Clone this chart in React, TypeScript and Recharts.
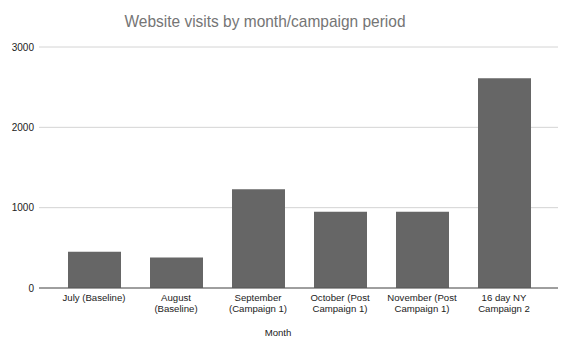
import React from "react";
import { BarChart, Bar, XAxis, YAxis, CartesianGrid } from "recharts";

const categories = [
  "July (Baseline)",
  "August (Baseline)",
  "September (Campaign 1)",
  "October (Post Campaign 1)",
  "November (Post Campaign 1)",
  "16 day NY Campaign 2",
];

// how each category label wraps under the axis
const tickLines = [
  ["July (Baseline)"],
  ["August", "(Baseline)"],
  ["September", "(Campaign 1)"],
  ["October (Post", "Campaign 1)"],
  ["November (Post", "Campaign 1)"],
  ["16 day NY", "Campaign 2"],
];

const visits = [450, 380, 1230, 950, 950, 2610];
const yTicks = [0, 1000, 2000, 3000];

const data = categories.map((month, i) => ({ month, visits: visits[i] }));

const font = "'Liberation Sans', Arial, sans-serif";

const MonthTick = (props: any) => {
  const { x, y, index } = props;
  const lines = tickLines[index] || [String(props.payload.value)];
  return (
    <text x={x} y={y} textAnchor="middle" fill="#222" fontSize={9.6} fontFamily={font}>
      {lines.map((l, i) => (
        <tspan key={i} x={x} dy={i === 0 ? "0.71em" : 11}>
          {l}
        </tspan>
      ))}
    </text>
  );
};

const App: React.FC = () => {
  return (
    <div style={{ position: "absolute", left: 0, top: 0, width: 562, height: 351, background: "#fff" }}>
      <BarChart
        width={562}
        height={351}
        data={data}
        margin={{ top: 47, right: 4, bottom: 13, left: 0 }}
        barSize={53}
      >
        <CartesianGrid vertical={false} stroke="#d4d4d4" />
        <XAxis
          dataKey="month"
          height={50}
          interval={0}
          tickLine={false}
          tickSize={0}
          tickMargin={6}
          axisLine={{ stroke: "#555" }}
          padding={{ left: 14, right: 13 }}
          tick={<MonthTick />}
        />
        <YAxis
          width={39}
          domain={[0, 3000]}
          ticks={yTicks}
          axisLine={false}
          tickLine={false}
          tickSize={3}
          tickMargin={2}
          tick={{ fill: "#222", fontSize: 10, fontFamily: font }}
        />
        <Bar dataKey="visits" fill="#666666" isAnimationActive={false} />
      </BarChart>
      <svg
        width={562}
        height={351}
        style={{ position: "absolute", left: 0, top: 0, pointerEvents: "none" }}
      >
        <text
          x={265}
          y={27}
          textAnchor="middle"
          fill="#757575"
          fontSize={17}
          fontFamily={font}
          textLength={281}
          lengthAdjust="spacingAndGlyphs"
        >
          Website visits by month/campaign period
        </text>
        <text x={278} y={336} textAnchor="middle" fill="#222" fontSize={9.6} fontFamily={font}>
          Month
        </text>
      </svg>
    </div>
  );
};

export default App;
